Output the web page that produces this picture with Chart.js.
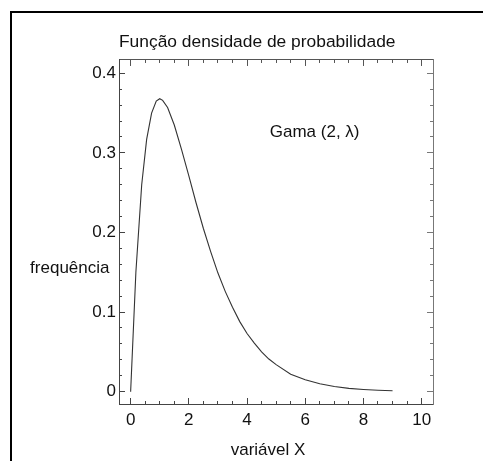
<!DOCTYPE html>
<html>
<head>
<meta charset="utf-8">
<script src="https://cdn.jsdelivr.net/npm/chart.js@4.4.1/dist/chart.umd.min.js"></script>
<style>
  html, body { margin: 0; padding: 0; background: #fff; }
  #wrap { position: relative; width: 483px; height: 461px; overflow: hidden; }
  #frame { position: absolute; left: 10px; top: 11px; width: 600px; height: 600px;
           border-left: 2px solid #000; border-top: 2px solid #000; }
  #c { position: absolute; left: 0; top: 0; }
</style>
</head>
<body>
<div id="wrap">
  <div id="frame"></div>
  <canvas id="c" width="483" height="461"></canvas>
</div>
<script>
// Gamma(2, λ) density, sampled along the variable X
const xValues = [0, 0.18, 0.38, 0.55, 0.72, 0.88, 1.0, 1.1, 1.27, 1.5, 1.75, 2.0, 2.25, 2.5, 2.75,
                 3.0, 3.25, 3.5, 3.75, 4.0, 4.25, 4.5, 4.75, 5.0, 5.5, 6.0, 6.5, 7.0, 7.5, 8.0, 8.5, 9.0];
const densityValues = [0, 0.150, 0.260, 0.317, 0.350, 0.365, 0.368, 0.366, 0.357, 0.335, 0.304, 0.271,
                       0.237, 0.205, 0.176, 0.149, 0.126, 0.106, 0.088, 0.073, 0.061, 0.050, 0.041,
                       0.034, 0.022, 0.015, 0.010, 0.0064, 0.0041, 0.0027, 0.0017, 0.0011];

// Axis ticks and their labels
const xMajorTicks = [0, 2, 4, 6, 8, 10];
const xTickLabels = ['0', '2', '4', '6', '8', '10'];
const xMinorTicks = [0, 0.5, 1, 1.5, 2, 2.5, 3, 3.5, 4, 4.5, 5, 5.5, 6, 6.5, 7, 7.5, 8, 8.5, 9, 9.5, 10];
const yMajorTicks = [0, 0.1, 0.2, 0.3, 0.4];
const yTickLabels = ['0', '0.1', '0.2', '0.3', '0.4'];
const yMinorTicks = [0, 0.02, 0.04, 0.06, 0.08, 0.1, 0.12, 0.14, 0.16, 0.18, 0.2, 0.22, 0.24, 0.26,
                     0.28, 0.3, 0.32, 0.34, 0.36, 0.38, 0.4];

const chartTitle = 'Função densidade de probabilidade';
const xAxisCaption = 'variável X';
const yAxisCaption = 'frequência';
const distributionLabel = 'Gama (2, λ)';

const X_RANGE = { min: -0.40, max: 10.39 };
const Y_RANGE = { min: -0.0155, max: 0.4167 };
const FONT = '"Liberation Sans", Arial, Helvetica, sans-serif';
const INK = '#111';

// One frame side: inward tick marks (major or minor), optional labels, fixed box size
function frameAxis({ position, range, tickValues, tickLen, labels, weight, size, color, drawBorder }) {
  const horizontal = position === 'top' || position === 'bottom';
  return {
    type: 'linear',
    position,
    bounds: 'data',
    min: range.min,
    max: range.max,
    weight,
    afterBuildTicks: s => { s.ticks = tickValues.map(v => ({ value: v })); },
    afterFit: s => { if (horizontal) s.height = size; else s.width = size; },
    ticks: {
      display: !!labels,
      autoSkip: false,
      maxRotation: 0,
      minRotation: 0,
      padding: horizontal ? 12.3 : 9,
      color: INK,
      font: { family: FONT, size: 17 },
      callback: (v, i) => (labels ? labels[i] : '')
    },
    grid: {
      display: true,
      drawOnChartArea: false,
      drawTicks: true,
      tickLength: -tickLen,
      tickColor: color,
      tickWidth: 1
    },
    border: { display: drawBorder, color, width: 1 }
  };
}

// Free-standing captions placed through the chart's scales
const captions = {
  id: 'captions',
  afterDraw(chart) {
    const { ctx, chartArea, scales } = chart;
    ctx.save();
    ctx.fillStyle = INK;
    ctx.font = '17px ' + FONT;
    ctx.textBaseline = 'alphabetic';
    ctx.textAlign = 'right';
    ctx.fillText(yAxisCaption, chartArea.left - 9.5, scales.y.getPixelForValue(0.149));
    ctx.textAlign = 'center';
    ctx.fillText(xAxisCaption, scales.x.getPixelForValue(4.72), chartArea.bottom + 51);
    ctx.textAlign = 'left';
    ctx.fillText(distributionLabel, scales.x.getPixelForValue(4.78), scales.y.getPixelForValue(0.32));
    ctx.restore();
  }
};

new Chart(document.getElementById('c'), {
  type: 'line',
  data: {
    datasets: [{
      data: xValues.map((x, i) => ({ x, y: densityValues[i] })),
      borderColor: '#333',
      borderWidth: 1.1,
      pointRadius: 0,
      tension: 0,
      fill: false,
      xAxisID: 'x',
      yAxisID: 'y'
    }]
  },
  options: {
    responsive: false,
    animation: false,
    devicePixelRatio: 1,
    layout: { padding: { left: 0, top: 0, right: 50, bottom: 0 } },
    plugins: {
      legend: { display: false },
      tooltip: { enabled: false },
      title: {
        display: true,
        text: chartTitle,
        align: 'start',
        fullSize: false,
        color: INK,
        font: { family: FONT, size: 17.4, weight: 'normal' },
        padding: { top: 31.4, bottom: 7.7 }
      }
    },
    scales: {
      x: frameAxis({ position: 'bottom', range: X_RANGE, tickValues: xMajorTicks, tickLen: 6,
                     labels: xTickLabels, weight: 1, size: 57, color: '#444', drawBorder: true }),
      xMinor: frameAxis({ position: 'bottom', range: X_RANGE, tickValues: xMinorTicks, tickLen: 3,
                          labels: null, weight: 0, size: 0, color: '#444', drawBorder: false }),
      xTop: frameAxis({ position: 'top', range: X_RANGE, tickValues: xMajorTicks, tickLen: 6,
                        labels: null, weight: 1, size: 0, color: '#555', drawBorder: true }),
      xTopMinor: frameAxis({ position: 'top', range: X_RANGE, tickValues: xMinorTicks, tickLen: 3,
                             labels: null, weight: 0, size: 0, color: '#555', drawBorder: false }),
      y: frameAxis({ position: 'left', range: Y_RANGE, tickValues: yMajorTicks, tickLen: 6,
                     labels: yTickLabels, weight: 1, size: 119, color: '#444', drawBorder: true }),
      yMinor: frameAxis({ position: 'left', range: Y_RANGE, tickValues: yMinorTicks, tickLen: 3,
                          labels: null, weight: 0, size: 0, color: '#444', drawBorder: false }),
      yRight: frameAxis({ position: 'right', range: Y_RANGE, tickValues: yMajorTicks, tickLen: 6,
                          labels: null, weight: 1, size: 0, color: '#777', drawBorder: true }),
      yRightMinor: frameAxis({ position: 'right', range: Y_RANGE, tickValues: yMinorTicks, tickLen: 3,
                               labels: null, weight: 0, size: 0, color: '#777', drawBorder: false })
    }
  },
  plugins: [captions]
});
</script>
</body>
</html>
